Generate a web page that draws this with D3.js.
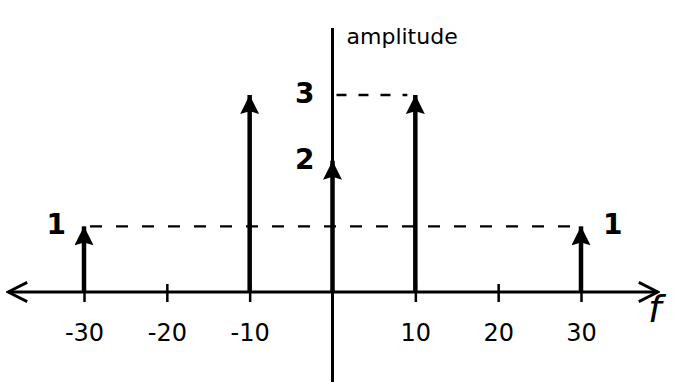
<!DOCTYPE html>
<html>
<head>
<meta charset="utf-8">
<script src="https://cdn.jsdelivr.net/npm/d3@7"></script>
<style>
  html, body { margin: 0; padding: 0; background: #fff; }
  svg { display: block; }
  text { font-family: "DejaVu Sans", sans-serif; fill: #000; }
</style>
</head>
<body>
<svg id="chart" width="680" height="382"></svg>
<script>
// Two-sided amplitude spectrum: impulses at ±10 Hz and ±30 Hz plus a DC term
const freqs = [-30, -10, 0, 10, 30];
const amps = [1, 3, 2, 3, 1];
const freqTicks = [-30, -20, -10, 10, 20, 30];
const ampLabels = [
  { f: -30, a: 1, side: "left" },
  { f: 0, a: 2, side: "left" },
  { f: 0, a: 3, side: "left" },
  { f: 30, a: 1, side: "right" }
];

const svg = d3.select("#chart");
const W = 680, H = 382;

const x = d3.scaleLinear().domain([-30, 30]).range([84, 581]);
const y = d3.scaleLinear().domain([0, 3]).range([292, 95]);

const ink = "#000";

// arrowhead markers (drawn pointing along +x, rotated to the line direction)
const defs = svg.append("defs");
defs.append("marker")
  .attr("id", "tip")
  .attr("viewBox", "0 0 10 10")
  .attr("refX", 10).attr("refY", 5)
  .attr("markerUnits", "userSpaceOnUse")
  .attr("markerWidth", 24).attr("markerHeight", 19)
  .attr("orient", "auto")
  .append("path")
  .attr("d", "M0,0 L10,5 L0,10 L1.5,5 Z")
  .attr("fill", ink);

defs.append("marker")
  .attr("id", "open")
  .attr("viewBox", "0 0 10 10")
  .attr("refX", 9).attr("refY", 5)
  .attr("markerUnits", "userSpaceOnUse")
  .attr("markerWidth", 24).attr("markerHeight", 24)
  .attr("orient", "auto-start-reverse")
  .append("path")
  .attr("d", "M1,1 L9,5 L1,9")
  .attr("fill", "none")
  .attr("stroke", ink)
  .attr("stroke-width", 1.2);

// dashed level guides
svg.append("line")
  .attr("x1", x(-30) + 6).attr("x2", x(30) - 8)
  .attr("y1", y(1)).attr("y2", y(1))
  .attr("stroke", ink).attr("stroke-width", 2.2)
  .attr("stroke-dasharray", "12,14");

svg.append("line")
  .attr("x1", x(0) + 4).attr("x2", x(10) - 8)
  .attr("y1", y(3)).attr("y2", y(3))
  .attr("stroke", ink).attr("stroke-width", 2.6)
  .attr("stroke-dasharray", "10,12");

// frequency axis with arrows at both ends
svg.append("line")
  .attr("x1", 8).attr("x2", 658)
  .attr("y1", y(0)).attr("y2", y(0))
  .attr("stroke", ink).attr("stroke-width", 3)
  .attr("marker-start", "url(#open)")
  .attr("marker-end", "url(#open)");

const xAxis = d3.axisBottom(x)
  .tickValues(freqTicks)
  .tickSize(10)
  .tickPadding(30)
  .tickFormat(d => d);

const gx = svg.append("g")
  .attr("transform", `translate(0,${y(0) - 8})`)
  .call(xAxis);
gx.select(".domain").remove();
gx.selectAll(".tick line").attr("stroke", ink).attr("stroke-width", 2.5).attr("y2", 18);
gx.selectAll(".tick text")
  .style("font-family", "'DejaVu Sans', sans-serif")
  .style("font-size", "24px")
  .attr("fill", ink);

// amplitude axis
svg.append("line")
  .attr("x1", x(0)).attr("x2", x(0))
  .attr("y1", 28).attr("y2", H)
  .attr("stroke", ink).attr("stroke-width", 3);

svg.append("text")
  .attr("x", x(0) + 14).attr("y", 44)
  .style("font-size", "22px")
  .text("amplitude");

svg.append("text")
  .attr("x", 648).attr("y", 322)
  .style("font-size", "38px")
  .style("font-style", "italic")
  .text("f");

// impulses
svg.append("g")
  .selectAll("line")
  .data(freqs.map((f, i) => ({ f, a: amps[i] })))
  .join("line")
  .attr("x1", d => x(d.f)).attr("x2", d => x(d.f))
  .attr("y1", y(0)).attr("y2", d => y(d.a))
  .attr("stroke", ink).attr("stroke-width", 4.5)
  .attr("marker-end", "url(#tip)");

// amplitude values
svg.append("g")
  .selectAll("text")
  .data(ampLabels)
  .join("text")
  .attr("x", d => d.side === "left" ? x(d.f) - 18 : x(d.f) + 22)
  .attr("y", d => y(d.a) + 8)
  .attr("text-anchor", d => d.side === "left" ? "end" : "start")
  .style("font-size", "28px")
  .style("font-weight", "bold")
  .text(d => d.a);
</script>
</body>
</html>
